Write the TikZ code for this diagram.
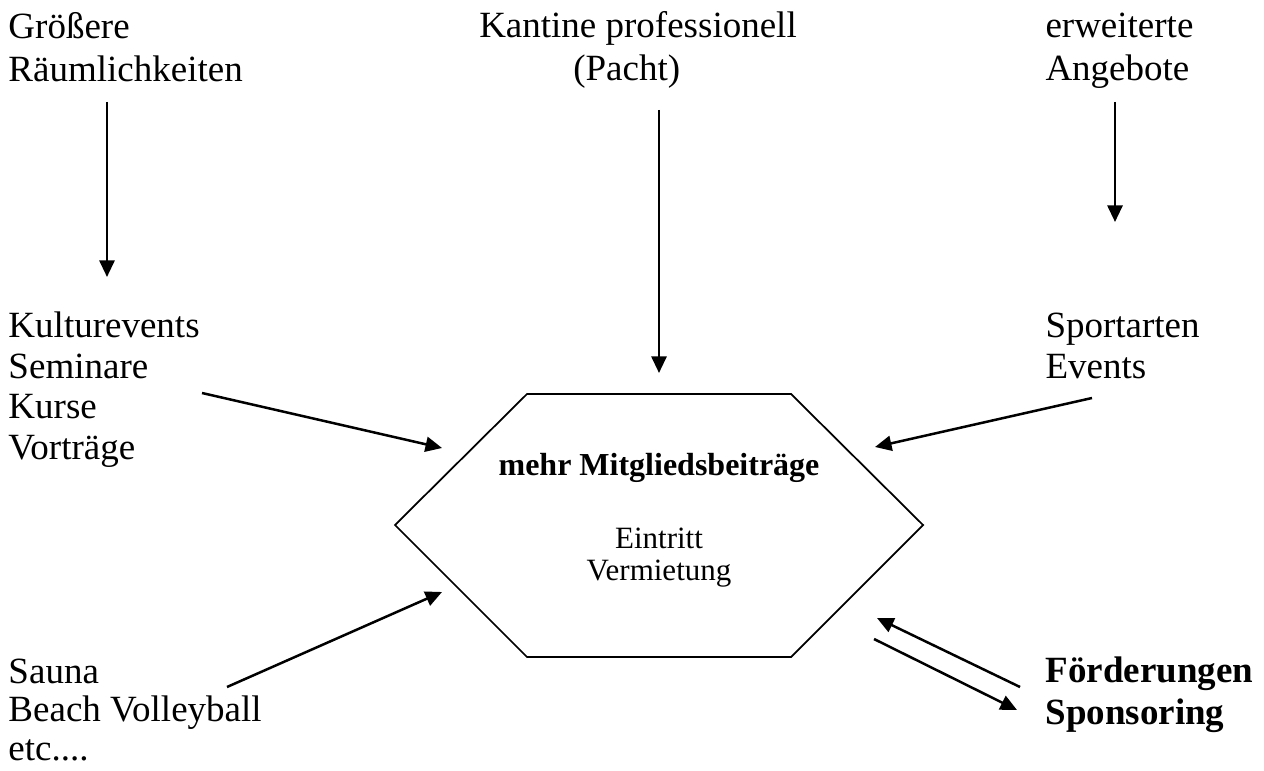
\documentclass[tikz,border=0pt]{standalone}
\usepackage{fontspec}
\setmainfont{Liberation Serif}
\usetikzlibrary{arrows.meta,positioning}

\begin{document}
\begin{tikzpicture}[
    x=0.4pt, y=-0.4pt,
    txt/.style={anchor=base west, inner sep=0pt, align=left, font=\fontsize{14.8}{16.2}\selectfont},
    toptxt/.style={txt, font=\fontsize{14.8}{17.4}\selectfont},
    inner/.style={anchor=base, inner sep=0pt, align=center, font=\fontsize{12.4}{12.8}\selectfont},
    arrow/.style={-{Triangle[length=6.6pt,width=6pt]}, line width=1pt},
    hexline/.style={line width=0.7pt, line join=miter}
]
\useasboundingbox (0,0) rectangle (1264,771);

% Top row (anchored at the last line)
\node[toptxt] (raum) at (8,82) {Größere\\Räumlichkeiten};
\node[toptxt, anchor=base, align=center] (kantine) at (638,81) {Kantine professionell\\(Pacht)\hspace*{9pt}};
\node[toptxt] (angebote) at (1045,81) {erweiterte\\Angebote};

% Middle row
\node[txt] (kultur) at (8,459) {Kulturevents\\Seminare\\Kurse\\Vorträge};
\node[txt] (sport) at (1045,378) {Sportarten\\Events};

% Bottom row
\node[txt, font=\fontsize{14.8}{15.4}\selectfont] (sauna) at (8,760) {Sauna\\Beach Volleyball\\etc....};
\node[txt, font=\fontsize{14.8}{16.6}\selectfont\bfseries] (foerder) at (1045,724) {Förderungen\\Sponsoring};

% Hexagon
\coordinate (hw) at (395,525);
\coordinate (hnw) at (527,394);
\coordinate (hne) at (791,394);
\coordinate (he) at (923,525);
\coordinate (hse) at (791,657);
\coordinate (hsw) at (527,657);
\draw[hexline] (hw) -- (hnw) -- (hne) -- (he) -- (hse) -- (hsw) -- cycle;
\node[inner, font=\fontsize{12.8}{13}\selectfont\bfseries] (beitrag) at (659,475) {mehr Mitgliedsbeiträge};
\node[inner] (eintritt) at (659,580) {Eintritt\\Vermietung};

% Arrow ends
\coordinate (raumS) at (107,102);   \coordinate (raumE) at (107,277);
\coordinate (kantS) at (659,110);   \coordinate (kantE) at (659,373);
\coordinate (angS) at (1115,102);   \coordinate (angE) at (1115,222);
\coordinate (kultS) at (202,393);   \coordinate (kultE) at (442,448);
\coordinate (sportS) at (1092,398); \coordinate (sportE) at (875,447);
\coordinate (saunaS) at (227,687);  \coordinate (saunaE) at (442,592);
\coordinate (foerS) at (1020,687);  \coordinate (foerE) at (877,618);
\coordinate (hexS) at (874,639);    \coordinate (hexE) at (1017,710);

% Arrows
\draw[arrow] (raumS) -- (raumE);
\draw[arrow] (kantS) -- (kantE);
\draw[arrow] (angS) -- (angE);
\draw[arrow] (kultS) -- (kultE);
\draw[arrow] (sportS) -- (sportE);
\draw[arrow] (saunaS) -- (saunaE);
\draw[arrow] (foerS) -- (foerE);
\draw[arrow] (hexS) -- (hexE);

\end{tikzpicture}
\end{document}
